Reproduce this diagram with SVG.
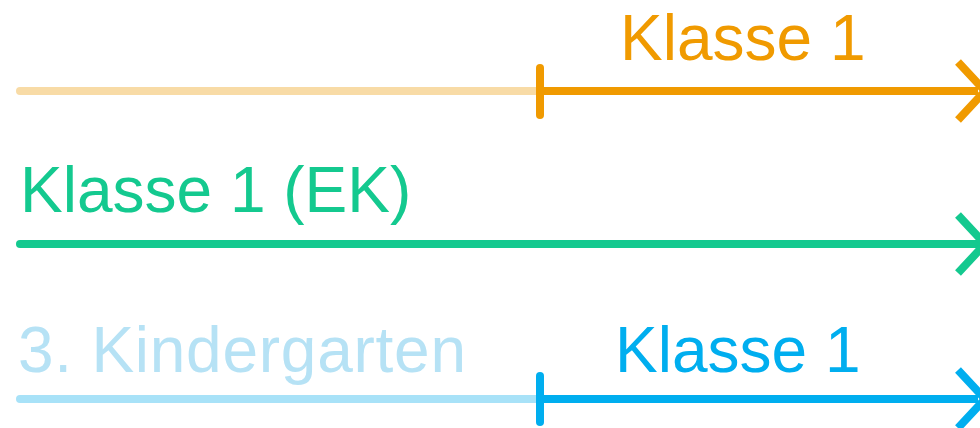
<svg xmlns="http://www.w3.org/2000/svg" width="980" height="428" viewBox="0 0 980 428">
<style>
text{font-family:"Liberation Sans",Arial,sans-serif;font-size:64px}
.ln{fill:none;stroke-width:8;stroke-linecap:round;stroke-linejoin:miter}
.ar{fill:none;stroke-width:8;stroke-linecap:butt;stroke-linejoin:miter}
</style>
<rect width="980" height="428" fill="#fff"/>
<g id="connectors">
<line class="ln" x1="20" y1="91" x2="540" y2="91" stroke="#F8DBA6"/>
<line class="ar" x1="540" y1="91" x2="978" y2="91" stroke="#F09A00"/>
<line class="ln" x1="540" y1="68" x2="540" y2="115" stroke="#F09A00"/>
<polyline class="ar" points="958,62 985,91 958,120" stroke="#F09A00"/>
<line class="ln" x1="20" y1="244" x2="978" y2="244" stroke="#14C98F"/>
<polyline class="ar" points="958,215 985,244 958,273" stroke="#14C98F"/>
<line class="ln" x1="20" y1="399" x2="540" y2="399" stroke="#A8E2F8"/>
<line class="ar" x1="540" y1="399" x2="978" y2="399" stroke="#00AEEF"/>
<line class="ln" x1="540" y1="376" x2="540" y2="422" stroke="#00AEEF"/>
<polyline class="ar" points="958,370 985,399 958,428" stroke="#00AEEF"/>
</g>
<g id="orange"><text x="620" y="60" fill="#F09A00">Klasse 1</text></g>
<g id="green"><text x="20" y="212" fill="#14C98F">Klasse 1 (EK)</text></g>
<g id="kg"><text x="18" y="372" fill="#B6E2F5" textLength="448">3. Kindergarten</text></g>
<g id="blue"><text x="615" y="372" fill="#00AEEF">Klasse 1</text></g>
</svg>
